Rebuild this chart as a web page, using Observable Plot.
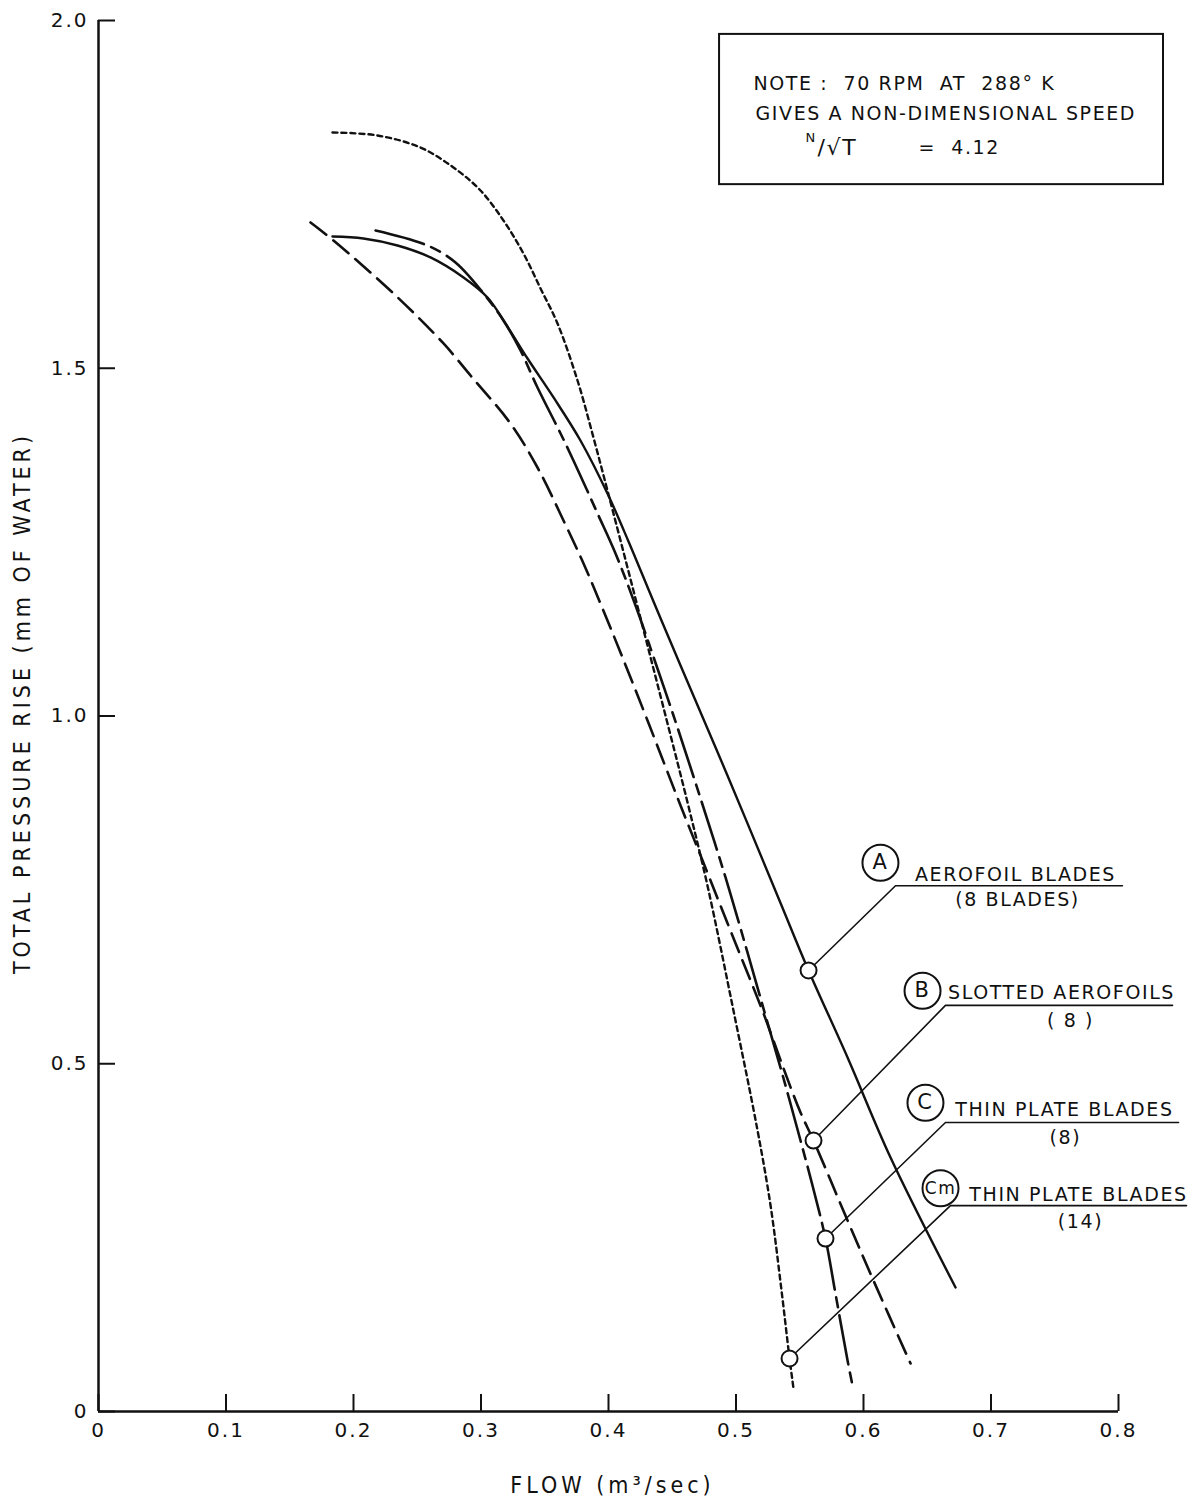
<!DOCTYPE html>
<html><head><meta charset="utf-8">
<script src="https://cdn.jsdelivr.net/npm/d3@7"></script>
<script src="https://cdn.jsdelivr.net/npm/@observablehq/plot@0.6"></script>
<style>
body{margin:0;background:#fff}
#chart svg{font-family:"DejaVu Sans",sans-serif;}
g[aria-label="x-axis tick label"] text, g[aria-label="y-axis tick label"] text{letter-spacing:2px}
</style>
</head><body><div id="chart"></div>
<script>
// ---- axes ----
const xTicks = [0, 0.1, 0.2, 0.3, 0.4, 0.5, 0.6, 0.7, 0.8];
const yTicks = [0, 0.5, 1.0, 1.5, 2.0];
const xTitle = "FLOW (m³/sec)";
const yTitle = "TOTAL PRESSURE RISE (mm OF WATER)";

// ---- curve A : aerofoil blades (solid) ----
const aFlow = [0.1835,0.2078,0.2345,0.2604,0.2863,0.3051,0.3192,0.3365,0.3569,0.3780,0.3992,0.4157,0.4353,0.4565,0.4933,0.5341,0.5569,0.5875,0.6212,0.6722];
const aRise = [1.6894,1.6866,1.6765,1.6593,1.6305,1.6017,1.5644,1.5140,1.4580,1.3961,1.3199,1.2509,1.1646,1.0726,0.9145,0.7347,0.6341,0.5090,0.3652,0.1783];

// ---- curve B : slotted aerofoils (long dashes) ----
const bFlow = [0.1663,0.1843,0.2314,0.2706,0.2918,0.3231,0.3443,0.3647,0.3804,0.3937,0.4094,0.4306,0.4565,0.4722,0.4878,0.5035,0.5216,0.5373,0.5506,0.5608,0.5875,0.6078,0.6369];
const bRise = [1.7096,1.6837,1.6075,1.5356,1.4896,1.4206,1.3573,1.2811,1.2193,1.1618,1.0913,0.9935,0.8713,0.7994,0.7275,0.6556,0.5723,0.4932,0.4299,0.3896,0.2746,0.1884,0.0690];

// ---- curve C : thin plate blades, 8 (dash-dot) ----
const cFlow = [0.2173,0.2580,0.2800,0.3020,0.3176,0.3310,0.3443,0.3624,0.3725,0.3914,0.4055,0.4212,0.4384,0.4541,0.4722,0.4918,0.5090,0.5231,0.5373,0.5506,0.5600,0.5702,0.5780,0.5875,0.5914];
const cRise = [1.6981,1.6765,1.6521,1.6075,1.5687,1.5255,1.4723,1.4062,1.3674,1.2912,1.2336,1.1589,1.0683,0.9835,0.8814,0.7678,0.6600,0.5694,0.4788,0.3896,0.3249,0.2487,0.1697,0.0733,0.0374];

// ---- curve Cm : thin plate blades, 14 (dotted) ----
const cmFlow = [0.1835,0.2188,0.2525,0.2784,0.2996,0.3176,0.3333,0.3467,0.3600,0.3757,0.3882,0.3992,0.4149,0.4306,0.4463,0.4620,0.4776,0.4980,0.5169,0.5271,0.5357,0.5420,0.5451];
const cmRise = [1.8390,1.8347,1.8174,1.7887,1.7556,1.7125,1.6650,1.6147,1.5644,1.4824,1.4004,1.3242,1.2135,1.1014,0.9892,0.8756,0.7563,0.5766,0.4040,0.2962,0.1740,0.0762,0.0331];

// ---- labels ----
const keys      = ["A", "B", "C", "Cm"];
const keyX      = [0.6133, 0.6463, 0.6486, 0.6604];
const keyY      = [0.789, 0.605, 0.444, 0.321];
const markX     = [0.5569, 0.5608, 0.5702, 0.5420];
const markY     = [0.6341, 0.3896, 0.2487, 0.0762];
const elbowX    = [0.6251, 0.6643, 0.6643, 0.6682];
const elbowY    = [0.756, 0.584, 0.4155, 0.296];
const lineEndX  = [0.8031, 0.8424, 0.8471, 0.8533];
const names     = ["AEROFOIL BLADES", "SLOTTED AEROFOILS", "THIN PLATE BLADES", "THIN PLATE BLADES"];
const nameX     = [0.7192, 0.7553, 0.7576, 0.7686];
const nameY     = [0.771, 0.602, 0.433, 0.312];
const counts    = ["(8 BLADES)", "( 8 )", "(8)", "(14)"];
const countX    = [0.7208, 0.7624, 0.7584, 0.7702];
const countY    = [0.735, 0.561, 0.394, 0.272];

// ---- note box ----
const noteBoxX = [0.4871, 0.8353];
const noteBoxY = [1.764, 1.980];
const noteLines = ["NOTE :  70 RPM  AT  288° K", "GIVES A NON-DIMENSIONAL SPEED", "N", "/√T", "=  4.12"];
const noteX = [0.5137, 0.5153, 0.5545, 0.5640, 0.6431];
const noteY = [1.9094, 1.8663, 1.8310, 1.8174, 1.8174];
const noteSize = [19, 19, 13, 22, 19];

const rows = (xs, ys) => xs.map((x, i) => ({x, y: ys[i]}));
const ink = "#111";
const titleFont = "Liberation Sans Narrow, DejaVu Sans Condensed, Arial Narrow, sans-serif";

const leaders = keys.flatMap((k, i) => [
  {k, x: markX[i], y: markY[i]},
  {k, x: elbowX[i], y: elbowY[i]},
  {k, x: lineEndX[i], y: elbowY[i]}
]);
const labels = keys.map((k, i) => ({k, kx: keyX[i], ky: keyY[i], mx: markX[i], my: markY[i],
  name: names[i], nx: nameX[i], ny: nameY[i], count: counts[i], cx: countX[i], cy: countY[i]}));
const notes = noteLines.map((t, i) => ({t, x: noteX[i], y: noteY[i], s: noteSize[i]}));

const chart = Plot.plot({
  width: 1192, height: 1500,
  marginLeft: 98, marginRight: 74, marginTop: 20, marginBottom: 89,
  x: {domain: [0, 0.8]},
  y: {domain: [0, 2]},
  style: {background: "#fff", color: ink},
  marks: [
    Plot.axisX({ticks: xTicks, tickSize: -17, tickPadding: 28, strokeWidth: 2, fontSize: 20,
      tickFormat: d => d === 0 ? "0" : d.toFixed(1), label: null}),
    Plot.axisY({ticks: yTicks, tickSize: -17, tickPadding: 27, strokeWidth: 2, fontSize: 20,
      tickFormat: d => d === 0 ? "0" : d.toFixed(1), label: null}),
    Plot.ruleY([0], {x1: 0, x2: 0.8, stroke: ink, strokeWidth: 2.5}),
    Plot.ruleX([0], {y1: 0, y2: 2, stroke: ink, strokeWidth: 2.5}),
    Plot.text([xTitle], {frameAnchor: "bottom", lineAnchor: "middle", textAnchor: "middle", dx: 4, dy: 74,
      fontSize: 23, fontFamily: titleFont, text: d => d, fill: ink}),
    Plot.text([yTitle], {frameAnchor: "left", lineAnchor: "middle", textAnchor: "middle", dx: -76, dy: -13, rotate: -90,
      fontSize: 23, fontFamily: titleFont, text: d => d, fill: ink}),

    // curves
    Plot.line(rows(cmFlow, cmRise), {x: "x", y: "y", curve: "catmull-rom", stroke: ink, strokeWidth: 2.4, strokeDasharray: "5,4"}),
    Plot.line(rows(bFlow, bRise), {x: "x", y: "y", curve: "catmull-rom", stroke: ink, strokeWidth: 2.6, strokeDasharray: "20,9"}),
    Plot.line(rows(cFlow, cRise), {x: "x", y: "y", curve: "catmull-rom", stroke: ink, strokeWidth: 2.6, strokeDasharray: "50,8,10,8"}),
    Plot.line(rows(aFlow, aRise), {x: "x", y: "y", curve: "catmull-rom", stroke: ink, strokeWidth: 2.4}),

    // leaders
    Plot.line(leaders, {x: "x", y: "y", z: "k", stroke: ink, strokeWidth: 1.6}),
    Plot.dot(labels, {x: "mx", y: "my", r: 8, fill: "#fff", stroke: ink, strokeWidth: 2}),
    Plot.dot(labels, {x: "kx", y: "ky", r: 18, fill: "#fff", stroke: ink, strokeWidth: 2}),
    Plot.text(labels, {x: "kx", y: "ky", text: "k", fontSize: d => d.k === "Cm" ? 17 : 21, fill: ink}),
    Plot.text(labels, {x: "nx", y: "ny", text: "name", fontSize: 19, fill: ink}),
    Plot.text(labels, {x: "cx", y: "cy", text: "count", fontSize: 19, fill: ink}),

    // note
    Plot.rect([0], {x1: noteBoxX[0], x2: noteBoxX[1], y1: noteBoxY[0], y2: noteBoxY[1], fill: "none", stroke: ink, strokeWidth: 2}),
    Plot.text(notes, {x: "x", y: "y", text: "t", textAnchor: "start", fontSize: "s", fill: ink})
  ]
});
document.getElementById("chart").appendChild(chart);
d3.select(chart).selectAll('g[aria-label="text"] text').attr("letter-spacing", "1.6px");
// axis titles: wider lettering as in the drawing
d3.select(chart).selectAll('g[aria-label="text"] text').filter(function() {
  const t = this.textContent; return t === xTitle || t === yTitle;
}).attr("letter-spacing", "4px");
</script>
</body></html>
